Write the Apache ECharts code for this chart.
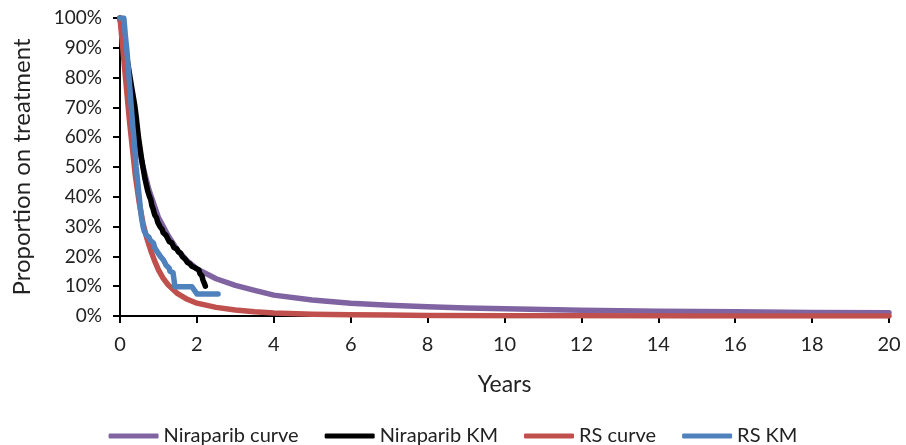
<!DOCTYPE html>
<html>
<head>
<meta charset="utf-8">
<script src="https://cdn.jsdelivr.net/npm/echarts@6/dist/echarts.min.js"></script>
<style>
  html, body { margin: 0; padding: 0; background: #fff; }
  #chart { width: 906px; height: 445px; }
</style>
</head>
<body>
<div id="chart"></div>
<script>
// values (years, % on treatment)
var niraCurveX = [0, 0.1, 0.2, 0.3, 0.4, 0.5, 0.6, 0.75, 1, 1.25, 1.5, 1.75, 2, 2.5, 3, 3.5, 4, 5, 6, 7, 8, 9, 10, 12, 14, 16, 18, 20];
var niraCurveY = [100, 92, 82, 73, 64, 56, 50, 42.5, 33, 27, 22, 18.5, 15.8, 12.5, 10.3, 8.6, 7.0, 5.4, 4.3, 3.6, 3.1, 2.7, 2.4, 1.9, 1.6, 1.4, 1.2, 1.1];

var niraKmX = [0, 0.1, 0.2, 0.3, 0.38, 0.42, 0.48, 0.57, 0.65, 0.72, 0.77, 0.8, 0.83, 0.86, 0.88, 0.9, 0.95, 0.98, 1.0, 1.04, 1.1, 1.12, 1.2, 1.24, 1.28, 1.35, 1.4, 1.48, 1.52, 1.58, 1.62, 1.7, 1.75, 1.82, 1.86, 1.92, 1.97, 2.05, 2.08, 2.13, 2.16, 2.2, 2.22];
var niraKmY = [100, 93, 85, 77, 71, 67, 60, 52, 46, 42, 40, 39, 37, 36, 35, 34, 33, 31.5, 31, 30, 29, 28, 27, 26.5, 25, 24.5, 23, 22.5, 21.5, 21, 20, 19, 18, 17.5, 16.8, 16.4, 15.8, 15.5, 14.2, 13.5, 12, 10.8, 10];

var rsCurveX = [0, 0.05, 0.1, 0.15, 0.2, 0.25, 0.3, 0.35, 0.4, 0.5, 0.6, 0.7, 0.8, 0.9, 1.0, 1.12, 1.25, 1.5, 1.75, 2, 2.5, 3, 3.5, 4, 5, 6, 7, 8, 10, 12, 15, 20];
var rsCurveY = [100, 93, 86, 79, 72, 65, 59, 53, 47, 38, 31, 26, 22, 18.5, 15.5, 12.7, 10.5, 7.5, 5.6, 4.3, 2.9, 2.0, 1.4, 1.0, 0.6, 0.4, 0.3, 0.2, 0.1, 0.1, 0, 0];

var rsKmX = [0, 0.1, 0.14, 0.18, 0.21, 0.24, 0.27, 0.3, 0.33, 0.36, 0.39, 0.42, 0.46, 0.5, 0.53, 0.56, 0.6, 0.63, 0.69, 0.75, 0.78, 0.87, 0.9, 0.93, 0.97, 1.0, 1.05, 1.08, 1.13, 1.2, 1.28, 1.3, 1.38, 1.43, 1.87, 2.0, 2.55];
var rsKmY = [100, 100, 94, 89, 84, 79, 74, 69, 64, 60, 55, 50, 45, 40, 36, 33, 30, 28.5, 27, 26.5, 25.5, 24.5, 23, 22.5, 21.5, 21, 20, 19.8, 18.8, 17, 16, 15, 14.5, 9.8, 9.8, 7.4, 7.4];

var xTicks = [0, 2, 4, 6, 8, 10, 12, 14, 16, 18, 20];
var yTicks = [0, 10, 20, 30, 40, 50, 60, 70, 80, 90, 100];

function pairs(xs, ys) {
  var out = [];
  for (var i = 0; i < xs.length; i++) out.push([xs[i], ys[i]]);
  return out;
}

var font = 'Lato, "Open Sans", sans-serif';
var myChart = echarts.init(document.getElementById('chart'));

function lineSeries(name, color, data) {
  return {
    name: name,
    type: 'line',
    data: data,
    showSymbol: false,
    symbol: 'none',
    smooth: false,
    animation: false,
    color: color,
    lineStyle: { color: color, width: 5.5, cap: 'round', join: 'round' }
  };
}

var option = {
  animation: false,
  grid: { left: 120, right: 17, top: 18, bottom: 129 },
  legend: {
    left: 'center',
    top: 421,
    icon: 'roundRect',
    itemWidth: 50,
    itemHeight: 5,
    itemGap: 26,
    textStyle: { fontFamily: font, fontSize: 20, color: '#222' },
    data: ['Niraparib curve', 'Niraparib KM', 'RS curve', 'RS KM']
  },
  xAxis: {
    type: 'value',
    min: xTicks[0],
    max: xTicks[xTicks.length - 1],
    interval: 2,
    name: 'Years',
    nameLocation: 'middle',
    nameGap: 57,
    nameTextStyle: { fontFamily: font, fontSize: 23, color: '#222' },
    axisLine: { show: true, lineStyle: { color: '#000', width: 2 } },
    axisTick: { show: true, inside: false, length: 7, lineStyle: { color: '#000', width: 2 } },
    axisLabel: { fontFamily: font, fontSize: 20, color: '#222', margin: 19 },
    splitLine: { show: false }
  },
  yAxis: {
    type: 'value',
    min: yTicks[0],
    max: yTicks[yTicks.length - 1],
    interval: 10,
    name: 'Proportion on treatment',
    nameLocation: 'middle',
    nameGap: 86,
    nameTextStyle: { fontFamily: font, fontSize: 24, color: '#222' },
    axisLine: { show: true, lineStyle: { color: '#000', width: 2 } },
    axisTick: { show: true, inside: false, length: 7, lineStyle: { color: '#000', width: 2 } },
    axisLabel: { fontFamily: font, fontSize: 19, color: '#222', margin: 18, formatter: '{value}%' },
    splitLine: { show: false }
  },
  series: [
    lineSeries('Niraparib curve', '#8064A2', pairs(niraCurveX, niraCurveY)),
    lineSeries('Niraparib KM', '#000000', pairs(niraKmX, niraKmY)),
    lineSeries('RS curve', '#C0504D', pairs(rsCurveX, rsCurveY)),
    lineSeries('RS KM', '#4F81BD', pairs(rsKmX, rsKmY))
  ]
};
myChart.setOption(option);
</script>
</body>
</html>
